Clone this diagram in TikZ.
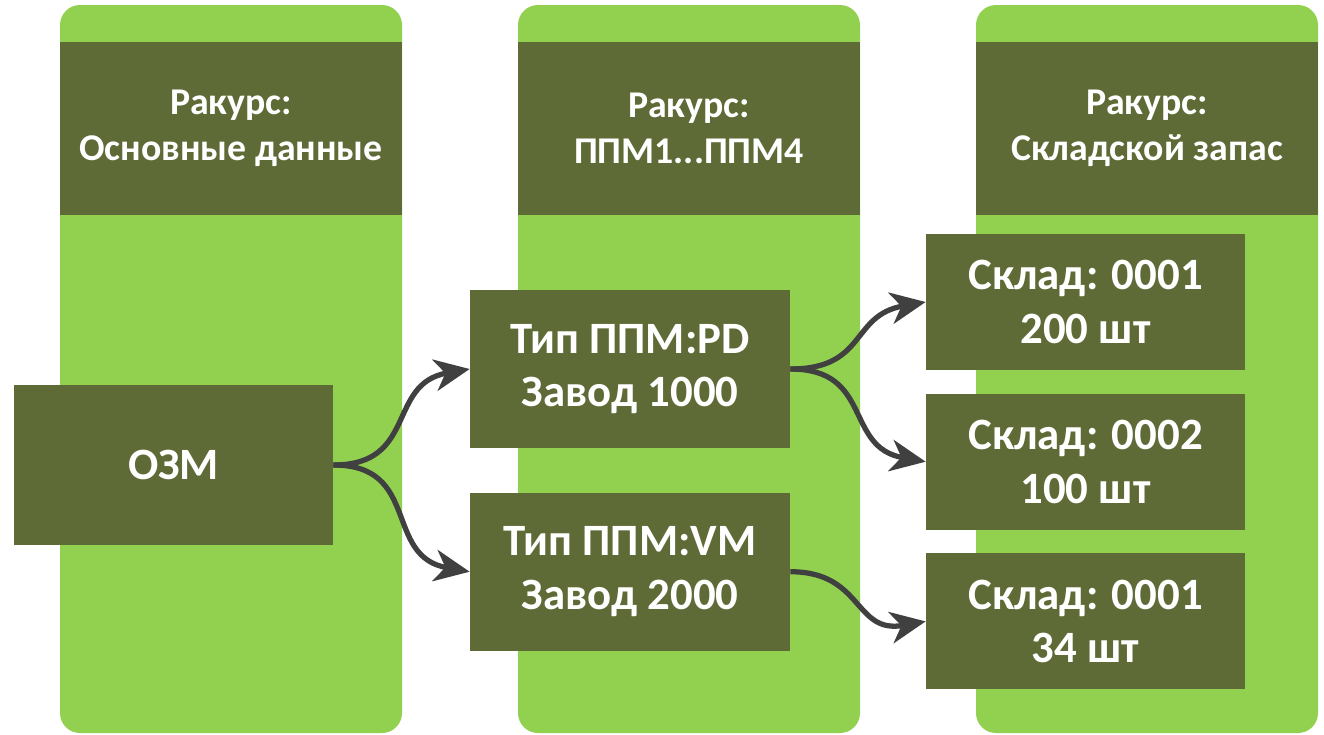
\documentclass[tikz,border=0pt]{standalone}
\usepackage{fontspec}
\setmainfont{Carlito}
\usetikzlibrary{positioning, arrows.meta}

\definecolor{hellgruen}{HTML}{92D050}
\definecolor{olive}{HTML}{5F6B36}
\definecolor{dunkelgrau}{HTML}{404040}

\tikzset{
    spalte/.style={rectangle, rounded corners=0.4cm, fill=hellgruen, minimum width=6.84cm, minimum height=14.56cm},
    kopf/.style={rectangle, fill=olive, text=white, align=center, inner sep=0pt,
        minimum width=6.84cm, minimum height=3.46cm, font=\bfseries\fontsize{21.5}{26.5}\selectfont},
    feld/.style={rectangle, fill=olive, text=white, align=center, inner sep=0pt,
        minimum width=6.38cm, font=\bfseries\fontsize{25.5}{30.5}\selectfont},
    link/.style={-{Stealth[length=20pt, width=18pt, inset=6pt]}, draw=dunkelgrau, line width=3pt, looseness=1.3}
}

\begin{document}
\begin{tikzpicture}[]
        \useasboundingbox (0,0) rectangle (26.48,-14.68);

        %Spalten
        \node[spalte](c1) at (4.62,-7.38){};
        \node[spalte](c2) at (13.78,-7.38){};
        \node[spalte](c3) at (22.94,-7.38){};

        \node[kopf, below = 0.74cm of c1.north](h1){Ракурс:\\Основные данные};
        \node[kopf, below = 0.74cm of c2.north](h2){Ракурс:\\ППМ1...ППМ4};
        \node[kopf, below = 0.74cm of c3.north](h3){Ракурс:\\Складской запас};

        %Felder
        \node[feld, minimum height=3.2cm](b0) at (3.47,-9.3){ОЗМ};
        \node[feld, minimum height=3.16cm, minimum width=6.4cm](b1) at (12.6,-7.38){Тип ППМ:PD\\Завод 1000};
        \node[feld, minimum height=3.16cm, minimum width=6.4cm, below = 0.88cm of b1](b2){Тип ППМ:VM\\Завод 2000};

        \node[feld, minimum height=2.72cm](b3) at (21.71,-6.04){Склад: 0001\\200 шт};
        \node[feld, minimum height=2.72cm, below = 0.46cm of b3](b4){Склад: 0002\\100 шт};
        \node[feld, minimum height=2.72cm, below = 0.46cm of b4](b5){Склад: 0001\\34 шт};

        \draw(b0.east) edge[link, out=0, in=190] (b1.west);
        \draw(b0.east) edge[link, out=0, in=170] (b2.west);
        \draw(b1.east) edge[link, out=0, in=190] (b3.west);
        \draw(b1.east) edge[link, out=0, in=170] (b4.west);
        \draw(b2.east) edge[link, out=0, in=190] (b5.west);

    \end{tikzpicture}
\end{document}
